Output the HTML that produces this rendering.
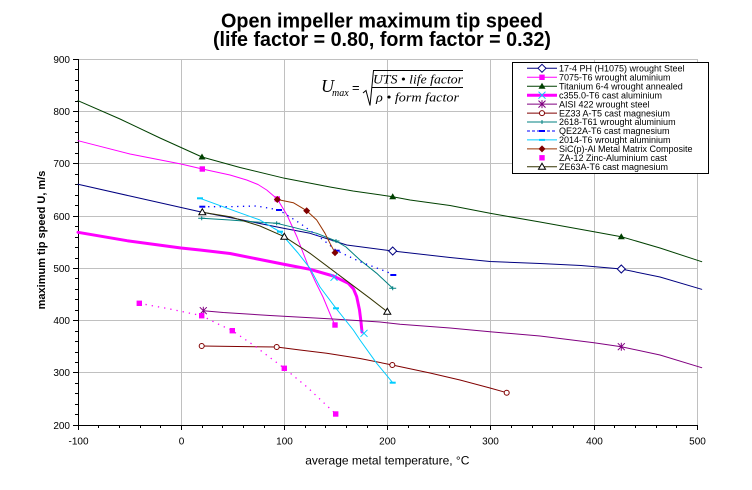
<!DOCTYPE html>
<html><head><meta charset="utf-8"><style>
html,body{margin:0;padding:0;background:#fff;}
svg{display:block;}
text{font-family:"Liberation Sans",Arial,sans-serif;}
.ser{font-family:"Liberation Serif","Times New Roman",serif;font-style:italic;}
</style></head><body>
<svg width="752" height="490" viewBox="0 0 752 490" xmlns="http://www.w3.org/2000/svg">
<defs>
<polygon id="mD" points="0,-4 4,0 0,4 -4,0" fill="#fff" stroke="#000080" stroke-width="1"/>
<rect id="mS" x="-2.7" y="-2.7" width="5.4" height="5.4" fill="#FF00FF"/>
<polygon id="mT" points="0,-3.5 3.5,2.5 -3.5,2.5" fill="#004000"/>
<path id="mX" d="M-3.5,-3.5L3.5,3.5M-3.5,3.5L3.5,-3.5" stroke="#00CCFF" stroke-width="1" fill="none"/>
<path id="mA" d="M-3.5,-3.5L3.5,3.5M-3.5,3.5L3.5,-3.5M0,-4V4" stroke="#800080" stroke-width="1" fill="none"/>
<circle id="mC" r="2.5" fill="#fff" stroke="#800000" stroke-width="1"/>
<path id="mP" d="M-3.5,0H3.5M0,-2V2" stroke="#008080" stroke-width="1" fill="none"/>
<rect id="mB" x="-3" y="-1" width="6" height="2" fill="#0000FF"/>
<rect id="mCy" x="-3" y="-1" width="6" height="2" fill="#00CCFF"/>
<polygon id="mF" points="0,-3.5 3.5,0 0,3.5 -3.5,0" fill="#800000"/>
<polygon id="mO" points="0,-3.5 3.5,2.5 -3.5,2.5" fill="#fff" stroke="#000" stroke-width="1"/>
</defs>

<!-- title -->
<text x="382" y="27.5" text-anchor="middle" font-size="20" font-weight="bold" textLength="322" lengthAdjust="spacingAndGlyphs">Open impeller maximum tip speed</text>
<text x="382" y="46" text-anchor="middle" font-size="20" font-weight="bold" textLength="338" lengthAdjust="spacingAndGlyphs">(life factor = 0.80, form factor = 0.32)</text>

<!-- gridlines -->
<g stroke="#C0C0C0" stroke-width="1" shape-rendering="crispEdges">
<line x1="78" y1="59.5" x2="698" y2="59.5"/>
<line x1="78" y1="111.5" x2="698" y2="111.5"/>
<line x1="78" y1="163.5" x2="698" y2="163.5"/>
<line x1="78" y1="216.5" x2="698" y2="216.5"/>
<line x1="78" y1="268.5" x2="698" y2="268.5"/>
<line x1="78" y1="320.5" x2="698" y2="320.5"/>
<line x1="78" y1="372.5" x2="698" y2="372.5"/>
<line x1="181.5" y1="59" x2="181.5" y2="425"/>
<line x1="284.5" y1="59" x2="284.5" y2="425"/>
<line x1="387.5" y1="59" x2="387.5" y2="425"/>
<line x1="490.5" y1="59" x2="490.5" y2="425"/>
<line x1="594.5" y1="59" x2="594.5" y2="425"/>
<line x1="697.5" y1="59" x2="697.5" y2="425"/>
</g>

<!-- axes -->
<g stroke="#000" stroke-width="1" shape-rendering="crispEdges">
<line x1="78.5" y1="59" x2="78.5" y2="426"/>
<line x1="78" y1="425.5" x2="698" y2="425.5"/>
<path d="M73,59.5H78M73,111.5H78M73,163.5H78M73,216.5H78M73,268.5H78M73,320.5H78M73,372.5H78M73,425.5H78"/>
<path d="M75,69.5H78M75,80.5H78M75,90.5H78M75,101.5H78M75,121.5H78M75,132.5H78M75,142.5H78M75,153.5H78M75,174.5H78M75,184.5H78M75,195.5H78M75,205.5H78M75,226.5H78M75,237.5H78M75,247.5H78M75,258.5H78M75,278.5H78M75,289.5H78M75,299.5H78M75,310.5H78M75,331.5H78M75,341.5H78M75,352.5H78M75,362.5H78M75,383.5H78M75,393.5H78M75,404.5H78M75,414.5H78"/>
<path d="M78.5,425V430M181.5,425V430M284.5,425V430M387.5,425V430M490.5,425V430M594.5,425V430M697.5,425V430"/>
<path d="M98.5,425V428M119.5,425V428M140.5,425V428M160.5,425V428M202.5,425V428M222.5,425V428M243.5,425V428M264.5,425V428M305.5,425V428M325.5,425V428M346.5,425V428M367.5,425V428M408.5,425V428M429.5,425V428M449.5,425V428M470.5,425V428M511.5,425V428M532.5,425V428M552.5,425V428M573.5,425V428M614.5,425V428M635.5,425V428M656.5,425V428M676.5,425V428"/>
</g>

<!-- tick labels -->
<g font-size="10" fill="#000" text-anchor="end">
<text x="70" y="63">900</text>
<text x="70" y="115">800</text>
<text x="70" y="167">700</text>
<text x="70" y="220">600</text>
<text x="70" y="272">500</text>
<text x="70" y="324">400</text>
<text x="70" y="376">300</text>
<text x="70" y="429">200</text>
</g>
<g font-size="10" fill="#000" text-anchor="middle">
<text x="78.5" y="444.5">-100</text>
<text x="181.5" y="444.5">0</text>
<text x="284.5" y="444.5">100</text>
<text x="387.5" y="444.5">200</text>
<text x="490.5" y="444.5">300</text>
<text x="594.5" y="444.5">400</text>
<text x="697.5" y="444.5">500</text>
</g>

<!-- axis titles -->
<text transform="translate(45,240) rotate(-90)" text-anchor="middle" font-size="11" font-weight="bold">maximum tip speed U, m/s</text>
<text x="387.3" y="464.5" text-anchor="middle" font-size="12">average metal temperature, °C</text>

<!-- formula -->
<text class="ser" x="321" y="92" font-size="18">U</text>
<text class="ser" x="332" y="96" font-size="10">max</text>
<text x="352" y="92" font-size="13" font-family="Liberation Serif,serif">=</text>
<path d="M363,93 L366,90.5 L370,105.5 L373.5,70.5 L463,70.5" stroke="#000" stroke-width="1" fill="none"/>
<line x1="372" y1="87.5" x2="463" y2="87.5" stroke="#000" stroke-width="1"/>
<text class="ser" x="373" y="83.5" font-size="12.5" textLength="90" lengthAdjust="spacingAndGlyphs">UTS • life factor</text>
<text class="ser" x="376" y="101.5" font-size="12.5" textLength="83" lengthAdjust="spacingAndGlyphs">ρ • form factor</text>

<!-- series -->
<g fill="none" stroke-linejoin="round" stroke-linecap="round">
<polyline stroke="#004000" stroke-width="1" points="78,100.7 120,119 160,138 202,157 240,167.5 284.7,178.3 330,187 353,191 392.7,196.7 410,200 450,205.5 490,213.3 540,222 594,231.7 621.3,236.7 660,248 701.7,261.7"/>
<polyline stroke="#000080" stroke-width="1" points="78,184.3 130,196 200,211.7 240,219.5 284.7,228.5 310,233.3 346.7,245 392.7,251 450,257.5 490,261.5 540,263.5 581,265.5 621.3,269 660,277 701.7,289.3"/>
<polyline stroke="#FF00FF" stroke-width="1" points="78,140.7 130,154 181,164 202.3,169 230,175 246.7,180 258,184.5 266.7,190 277.3,199 287,215 297,237 309,268 316,283 323,297 331.7,318 335,325"/>
<polyline stroke="#FF00FF" stroke-width="3" points="78,232.3 127,240.7 181,248 200,250 230,253.5 260,259.5 285,264.5 310,269.3 333.3,276 348.3,283.3 353.5,289 356.7,296.7 359.5,310 361,322 362,332"/>
<polyline stroke="#800080" stroke-width="1" points="203.3,310.7 223.3,312.5 270,315.5 333,319 380,322 400,324.3 450,328 490,331.7 540,336 594,342.7 621.3,346.7 660,355 701.7,367.7"/>
<polyline stroke="#800000" stroke-width="1" points="201.7,346 276.7,347 300,350 326.7,353.3 360,358.5 392.3,365 430,373 460,380 490,388 506.7,392.7"/>
<polyline stroke="#008080" stroke-width="1" points="201.7,218.3 230,220 260,222.3 276.7,223.3 293.3,227.3 316.7,233.3 336,241 346,247 360,260 376.7,273.3 392.7,288.3"/>
<polyline stroke="#0000FF" stroke-width="1.3" stroke-dasharray="1.3,4.5" stroke-linecap="butt" points="202.3,206.7 228,206.7 256.7,206 279,210 300,223.3 323.3,240 336.7,250.7 360,261.7 386.7,271.7 393.3,275"/>
<polyline stroke="#00CCFF" stroke-width="1" points="200,198.3 236.7,211.7 260,220 273.3,228 280,231.7 286.7,240 298,253 310,268.3 320,287 336,308.3 353.3,330 360,340 376.7,363.3 392.7,382.7"/>
<polyline stroke="#993300" stroke-width="1" points="277.3,199.5 293.3,202.7 306.7,210.7 316.7,220 325,233.3 330,243.3 335,252.7"/>
<polyline stroke="#FF00FF" stroke-width="1.3" stroke-dasharray="1.3,5" stroke-linecap="butt" points="139.3,303.3 170,309 201.7,315.7 216.7,323.3 232.3,330.7 253.3,345 284.3,368.3 306.7,386.7 335.7,414"/>
<polyline stroke="#333300" stroke-width="1" points="202.3,212.3 230,216.7 260,226 284.3,236.7 310,253.3 343.3,278.3 370,298.3 387.3,311.7"/>
</g>

<!-- markers -->
<use href="#mT" x="202" y="157"/><use href="#mT" x="392.7" y="196.7"/><use href="#mT" x="621.3" y="236.7"/>
<use href="#mD" x="392.7" y="251"/><use href="#mD" x="621.3" y="269"/>
<use href="#mS" x="202.3" y="169"/><use href="#mS" x="277.3" y="199"/><use href="#mS" x="335" y="325"/>
<use href="#mX" x="334" y="277.3"/><use href="#mX" x="364" y="333.3"/>
<use href="#mA" x="203.3" y="310.7"/><use href="#mA" x="621.3" y="346.7"/>
<use href="#mC" x="201.7" y="346"/><use href="#mC" x="276.7" y="347"/><use href="#mC" x="392.3" y="365"/><use href="#mC" x="506.7" y="392.7"/>
<use href="#mP" x="201.7" y="218.3"/><use href="#mP" x="276.7" y="223.3"/><use href="#mP" x="336" y="241"/><use href="#mP" x="392.7" y="288.3"/>
<use href="#mB" x="202.3" y="206.7"/><use href="#mB" x="279" y="210"/><use href="#mB" x="336.7" y="250.7"/><use href="#mB" x="393.3" y="275"/>
<use href="#mCy" x="200" y="198.3"/><use href="#mCy" x="280" y="231.7"/><use href="#mCy" x="336" y="308.3"/><use href="#mCy" x="392.7" y="382.7"/>
<use href="#mF" x="277.3" y="199.5"/><use href="#mF" x="306.7" y="210.7"/><use href="#mF" x="335" y="252.7"/>
<use href="#mS" x="139.3" y="303.3"/><use href="#mS" x="201.7" y="315.7"/><use href="#mS" x="232.3" y="330.7"/><use href="#mS" x="284.3" y="368.3"/><use href="#mS" x="335.7" y="414"/>
<use href="#mO" x="202.3" y="212.3"/><use href="#mO" x="284.3" y="236.7"/><use href="#mO" x="387.3" y="311.7"/>

<!-- legend -->
<rect x="512.5" y="62.5" width="196" height="111" fill="#fff" stroke="#000" stroke-width="1" shape-rendering="crispEdges"/>
<g fill="none">
<line x1="527" y1="68.3" x2="557" y2="68.3" stroke="#000080"/>
<line x1="527" y1="77.3" x2="557" y2="77.3" stroke="#FF00FF"/>
<line x1="527" y1="86.2" x2="557" y2="86.2" stroke="#004000"/>
<line x1="527" y1="95.2" x2="557" y2="95.2" stroke="#FF00FF" stroke-width="3"/>
<line x1="527" y1="104.1" x2="557" y2="104.1" stroke="#800080"/>
<line x1="527" y1="113.1" x2="557" y2="113.1" stroke="#800000"/>
<line x1="527" y1="122" x2="557" y2="122" stroke="#008080"/>
<line x1="527" y1="131" x2="557" y2="131" stroke="#0000FF" stroke-dasharray="3,2"/>
<line x1="527" y1="139.9" x2="557" y2="139.9" stroke="#00CCFF"/>
<line x1="527" y1="148.9" x2="557" y2="148.9" stroke="#993300"/>
<line x1="527" y1="166.8" x2="557" y2="166.8" stroke="#333300"/>
</g>
<use href="#mD" x="542" y="68.3"/>
<use href="#mS" x="542" y="77.3"/>
<use href="#mT" x="542" y="86.2"/>
<use href="#mX" x="542" y="95.2"/>
<use href="#mA" x="542" y="104.1"/>
<use href="#mC" x="542" y="113.1"/>
<use href="#mP" x="542" y="122"/>
<use href="#mB" x="542" y="131"/>
<use href="#mCy" x="542" y="139.9"/>
<use href="#mF" x="542" y="148.9"/>
<use href="#mS" x="542" y="157.8"/>
<use href="#mO" x="542" y="166.8"/>
<g font-size="9" fill="#000">
<text x="559" y="71.5">17-4 PH (H1075) wrought Steel</text>
<text x="559" y="80.5">7075-T6 wrought aluminium</text>
<text x="559" y="89.4">Titanium 6-4 wrought annealed</text>
<text x="559" y="98.4">c355.0-T6 cast aluminium</text>
<text x="559" y="107.3">AISI 422 wrought steel</text>
<text x="559" y="116.3">EZ33 A-T5 cast magnesium</text>
<text x="559" y="125.2">2618-T61 wrought aluminium</text>
<text x="559" y="134.2">QE22A-T6 cast magnesium</text>
<text x="559" y="143.1">2014-T6 wrought aluminium</text>
<text x="559" y="152.1">SiC(p)-Al Metal Matrix Composite</text>
<text x="559" y="161">ZA-12 Zinc-Aluminium cast</text>
<text x="559" y="170">ZE63A-T6 cast magnesium</text>
</g>
</svg>
</body></html>
